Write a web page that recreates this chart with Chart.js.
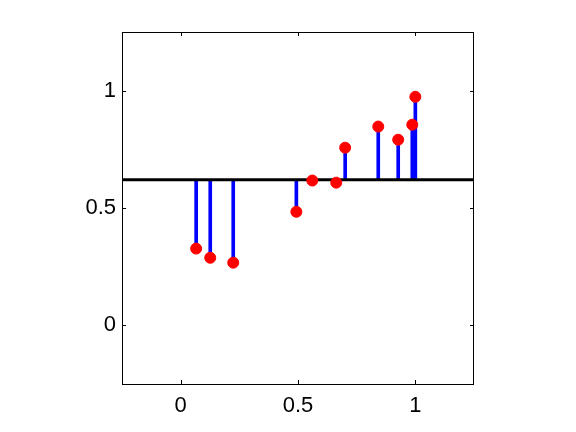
<!DOCTYPE html>
<html>
<head>
<meta charset="utf-8">
<script src="https://cdn.jsdelivr.net/npm/chart.js@4/dist/chart.umd.min.js"></script>
<style>
  html, body { margin: 0; padding: 0; background: #fff; }
  #wrap { width: 576px; height: 432px; }
</style>
</head>
<body>
<div id="wrap"><canvas id="c" width="576" height="432"></canvas></div>
<script>
const xValues = [0.066, 0.126, 0.224, 0.493, 0.561, 0.663, 0.701, 0.842, 0.927, 0.987, 1.000];
const yValues = [0.327, 0.288, 0.267, 0.484, 0.617, 0.608, 0.757, 0.847, 0.791, 0.855, 0.974];
const baseline = 0.62;
const xTicks = [0, 0.5, 1];
const yTicks = [0, 0.5, 1];
const axisMin = -0.25;
const axisMax = 1.25;

const stems = xValues.map((x, i) => ({ x: x, y: [baseline, yValues[i]] }));
const dots = xValues.map((x, i) => ({ x: x, y: yValues[i] }));
const baseLine = [{ x: axisMin, y: baseline }, { x: axisMax, y: baseline }];

const frame = {
  id: 'frame',
  afterDatasetsDraw(chart) {
    const ctx = chart.ctx;
    const a = chart.chartArea;
    const xs = chart.scales.x, ys = chart.scales.y;
    ctx.save();
    ctx.strokeStyle = '#000';
    ctx.lineWidth = 1;
    ctx.strokeRect(Math.round(a.left) + 0.5, Math.round(a.top) + 0.5,
                   Math.round(a.right - a.left) - 1, Math.round(a.bottom - a.top));
    const tl = 4;
    ctx.beginPath();
    xTicks.forEach(v => {
      const px = Math.round(xs.getPixelForValue(v)) + 0.5;
      ctx.moveTo(px, a.bottom); ctx.lineTo(px, a.bottom - tl);
      ctx.moveTo(px, a.top); ctx.lineTo(px, a.top + tl);
    });
    yTicks.forEach(v => {
      const py = Math.round(ys.getPixelForValue(v)) + 0.5;
      ctx.moveTo(a.left, py); ctx.lineTo(a.left + tl, py);
      ctx.moveTo(a.right, py); ctx.lineTo(a.right - tl, py);
    });
    ctx.stroke();
    ctx.restore();
  }
};

new Chart(document.getElementById('c'), {
  type: 'scatter',
  data: {
    datasets: [
      {
        type: 'bar',
        data: stems,
        backgroundColor: '#0000ff',
        borderWidth: 0,
        barThickness: 3,
        order: 3
      },
      {
        type: 'line',
        data: baseLine,
        borderColor: '#000',
        borderWidth: 3,
        pointRadius: 0,
        fill: false,
        order: 2
      },
      {
        type: 'scatter',
        data: dots,
        backgroundColor: '#ff0000',
        borderColor: '#ff0000',
        borderWidth: 1,
        pointRadius: 5.5,
        order: 1
      }
    ]
  },
  options: {
    responsive: false,
    animation: false,
    events: [],
    layout: { padding: { left: 0, right: 102, top: 32, bottom: 0 } },
    plugins: { legend: { display: false }, tooltip: { enabled: false } },
    scales: {
      x: {
        type: 'linear',
        min: axisMin,
        max: axisMax,
        offset: false,
        grid: { display: false, drawTicks: false },
        border: { display: false },
        afterBuildTicks: s => { s.ticks = xTicks.map(v => ({ value: v })); },
        afterFit: s => { s.height = 48; },
        ticks: {
          color: '#000',
          padding: 9,
          maxRotation: 0,
          font: { family: 'Liberation Sans', size: 22 },
          callback: v => String(v)
        }
      },
      y: {
        type: 'linear',
        min: axisMin,
        max: axisMax,
        grid: { display: false, drawTicks: false },
        border: { display: false },
        afterBuildTicks: s => { s.ticks = yTicks.map(v => ({ value: v })); },
        afterFit: s => { s.width = 122; },
        ticks: {
          color: '#000',
          padding: 6,
          font: { family: 'Liberation Sans', size: 22 },
          callback: v => String(v)
        }
      }
    }
  },
  plugins: [frame]
});
</script>
</body>
</html>
